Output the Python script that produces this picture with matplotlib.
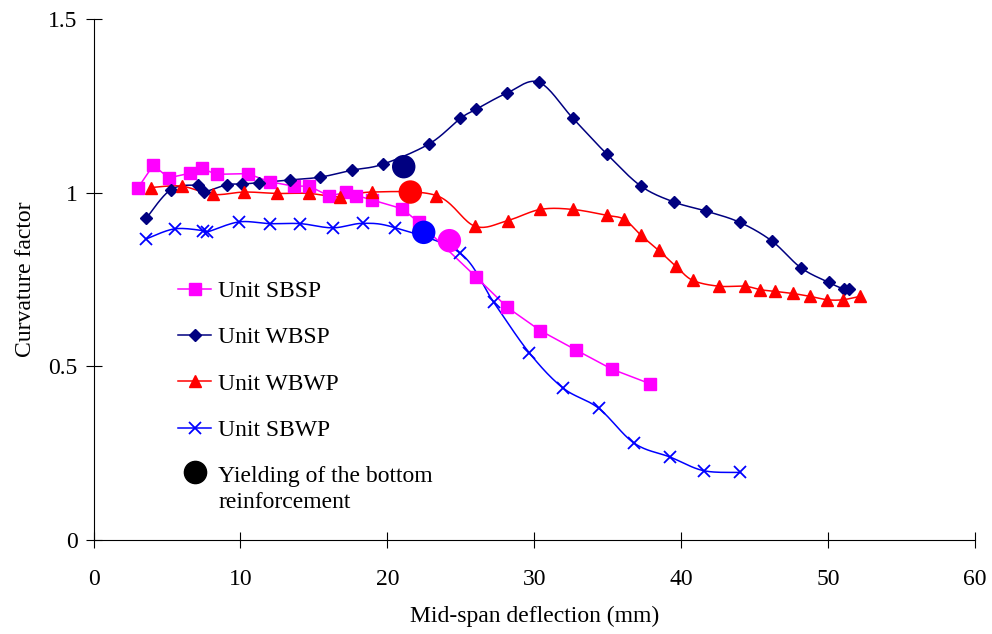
import numpy as np
import matplotlib
matplotlib.use("Agg")
import matplotlib.pyplot as plt
from matplotlib.lines import Line2D
from matplotlib.legend_handler import HandlerLine2D

# Unit SBSP (magenta squares, straight segments)
sbsp_x = [3.04, 4.06, 5.12, 6.55, 7.35, 8.37, 10.48, 12.04, 13.63, 14.69, 16.05,
          17.21, 17.89, 18.98, 21.0, 22.13, 26.05, 28.16, 30.41, 32.81, 35.29, 37.89]
sbsp_y = [1.015, 1.079, 1.043, 1.056, 1.070, 1.053, 1.055, 1.031, 1.019, 1.019, 0.990,
          1.002, 0.992, 0.979, 0.954, 0.915, 0.757, 0.670, 0.603, 0.548, 0.492, 0.450]

# Unit WBSP (navy diamonds)
wbsp_x = [3.58, 5.26, 7.10, 7.50, 9.07, 10.11, 11.25, 13.36, 15.44, 17.60, 19.68,
          22.86, 24.97, 26.03, 28.14, 30.31, 32.63, 34.94, 37.26, 39.52, 41.70,
          43.97, 46.17, 48.14, 50.03, 51.05, 51.39]
wbsp_y = [0.926, 1.009, 1.021, 1.003, 1.023, 1.025, 1.029, 1.037, 1.045, 1.065, 1.082,
          1.141, 1.214, 1.240, 1.287, 1.318, 1.214, 1.111, 1.019, 0.973, 0.947,
          0.915, 0.861, 0.784, 0.742, 0.723, 0.723]

# Unit WBWP (red triangles)
wbwp_x = [3.92, 5.99, 8.14, 10.27, 12.49, 14.65, 16.80, 18.95, 23.33, 25.94, 28.18,
          30.41, 32.61, 34.92, 36.13, 37.27, 38.46, 39.65, 40.77, 42.54, 44.31,
          45.37, 46.39, 47.59, 48.73, 49.95, 51.0, 52.18]
wbwp_y = [1.015, 1.019, 0.995, 1.002, 0.998, 0.998, 0.988, 1.002, 0.992, 0.904, 0.920,
          0.952, 0.952, 0.935, 0.923, 0.877, 0.834, 0.788, 0.748, 0.731, 0.731,
          0.721, 0.716, 0.710, 0.702, 0.692, 0.692, 0.702]

# Unit SBWP (blue crosses)
sbwp_x = [3.58, 5.51, 7.46, 7.73, 9.89, 11.99, 14.08, 16.28, 18.35, 20.54, 24.92,
          27.23, 29.66, 31.95, 34.37, 36.80, 39.25, 41.52, 44.01]
sbwp_y = [0.867, 0.896, 0.891, 0.887, 0.916, 0.911, 0.911, 0.899, 0.912, 0.899, 0.827,
          0.685, 0.539, 0.438, 0.380, 0.279, 0.239, 0.200, 0.195]

# yielding of the bottom reinforcement, one per unit
yield_x = [21.11, 21.56, 22.47, 24.22]
yield_y = [1.075, 1.002, 0.886, 0.862]
yield_colors = ["#000080", "#FF0000", "#0000FF", "#FF00FF"]


def smooth(x, y, n=20):
    # spreadsheet-style smoothed line (Catmull-Rom as cubic Bezier)
    p = np.column_stack([x, y]).astype(float)
    pts = [p[0]]
    for i in range(len(p) - 1):
        p0 = p[i - 1] if i > 0 else p[i]
        p1, p2 = p[i], p[i + 1]
        p3 = p[i + 2] if i + 2 < len(p) else p[i + 1]
        c1 = p1 + (p2 - p0) / 6
        c2 = p2 - (p3 - p1) / 6
        t = np.linspace(0, 1, n)[1:, None]
        seg = ((1 - t) ** 3) * p1 + 3 * ((1 - t) ** 2) * t * c1 + 3 * (1 - t) * t ** 2 * c2 + t ** 3 * p2
        pts.extend(seg)
    pts = np.array(pts)
    return pts[:, 0], pts[:, 1]


class RaisedHandler(HandlerLine2D):
    # keeps the legend circle level with the first line of a two-line label
    def __init__(self, shift, **kw):
        super().__init__(**kw)
        self.shift = shift

    def create_artists(self, legend, orig_handle, xdescent, ydescent, width, height, fontsize, trans):
        artists = super().create_artists(legend, orig_handle, xdescent, ydescent,
                                         width, height, fontsize, trans)
        for a in artists:
            a.set_ydata(np.asarray(a.get_ydata()) + self.shift)
        return artists


plt.rcParams["font.family"] = ["Liberation Serif", "DejaVu Serif"]
plt.rcParams["font.size"] = 17

fig, ax = plt.subplots(figsize=(9.92, 6.34), dpi=100)
fig.subplots_adjust(left=0.0943, right=0.983, bottom=0.148, top=0.970)

ax.plot(sbsp_x, sbsp_y, color="#FF00FF", lw=1.1, marker="s", ms=8.5, zorder=3)

for xs, ys, color, marker, ms, mew in [
    (wbsp_x, wbsp_y, "#000080", "D", 6.5, 1),
    (wbwp_x, wbwp_y, "#FF0000", "^", 9, 1),
    (sbwp_x, sbwp_y, "#0000FF", "x", 9, 1.3),
]:
    sx, sy = smooth(xs, ys)
    ax.plot(sx, sy, color=color, lw=1.1, zorder=2)
    ax.plot(xs, ys, ls="none", color=color, marker=marker, ms=ms, mew=mew, zorder=3)

ax.scatter(yield_x, yield_y, s=285, c=yield_colors, zorder=5, linewidths=0)

ax.set_xlim(0, 60)
ax.set_ylim(0, 1.5)
ax.set_xticks(range(0, 61, 10))
ax.set_yticks([0, 0.5, 1, 1.5])
ax.set_yticklabels(["0", "0.5", "1", "1.5"])
ax.tick_params(direction="inout", length=11, width=0.8)
ax.tick_params(axis="x", pad=15)
ax.tick_params(axis="y", pad=6)
ax.spines["top"].set_visible(False)
ax.spines["right"].set_visible(False)
ax.set_xlabel("Mid-span deflection (mm)", labelpad=12)
ax.set_ylabel("Curvature factor", labelpad=9)

yield_handle = Line2D([], [], color="black", marker="o", ms=16, lw=0)
handles = [
    Line2D([], [], color="#FF00FF", marker="s", ms=8, lw=1.1),
    Line2D([], [], color="#000080", marker="D", ms=6, lw=1.1),
    Line2D([], [], color="#FF0000", marker="^", ms=8, lw=1.1),
    Line2D([], [], color="#0000FF", marker="x", ms=8, mew=1.3, lw=1.1),
    yield_handle,
]
labels = ["Unit SBSP", "Unit WBSP", "Unit WBWP", "Unit SBWP",
          "Yielding of the bottom\nreinforcement"]
leg = ax.legend(handles, labels, loc="upper left", bbox_to_anchor=(0.072, 0.539),
                frameon=False, handlelength=1.4, handletextpad=0.3, labelspacing=1.05,
                fontsize=17, handler_map={yield_handle: RaisedHandler(shift=12)})
leg.get_texts()[-1].set_linespacing(1.3)

fig.savefig("out.png", dpi=100)
